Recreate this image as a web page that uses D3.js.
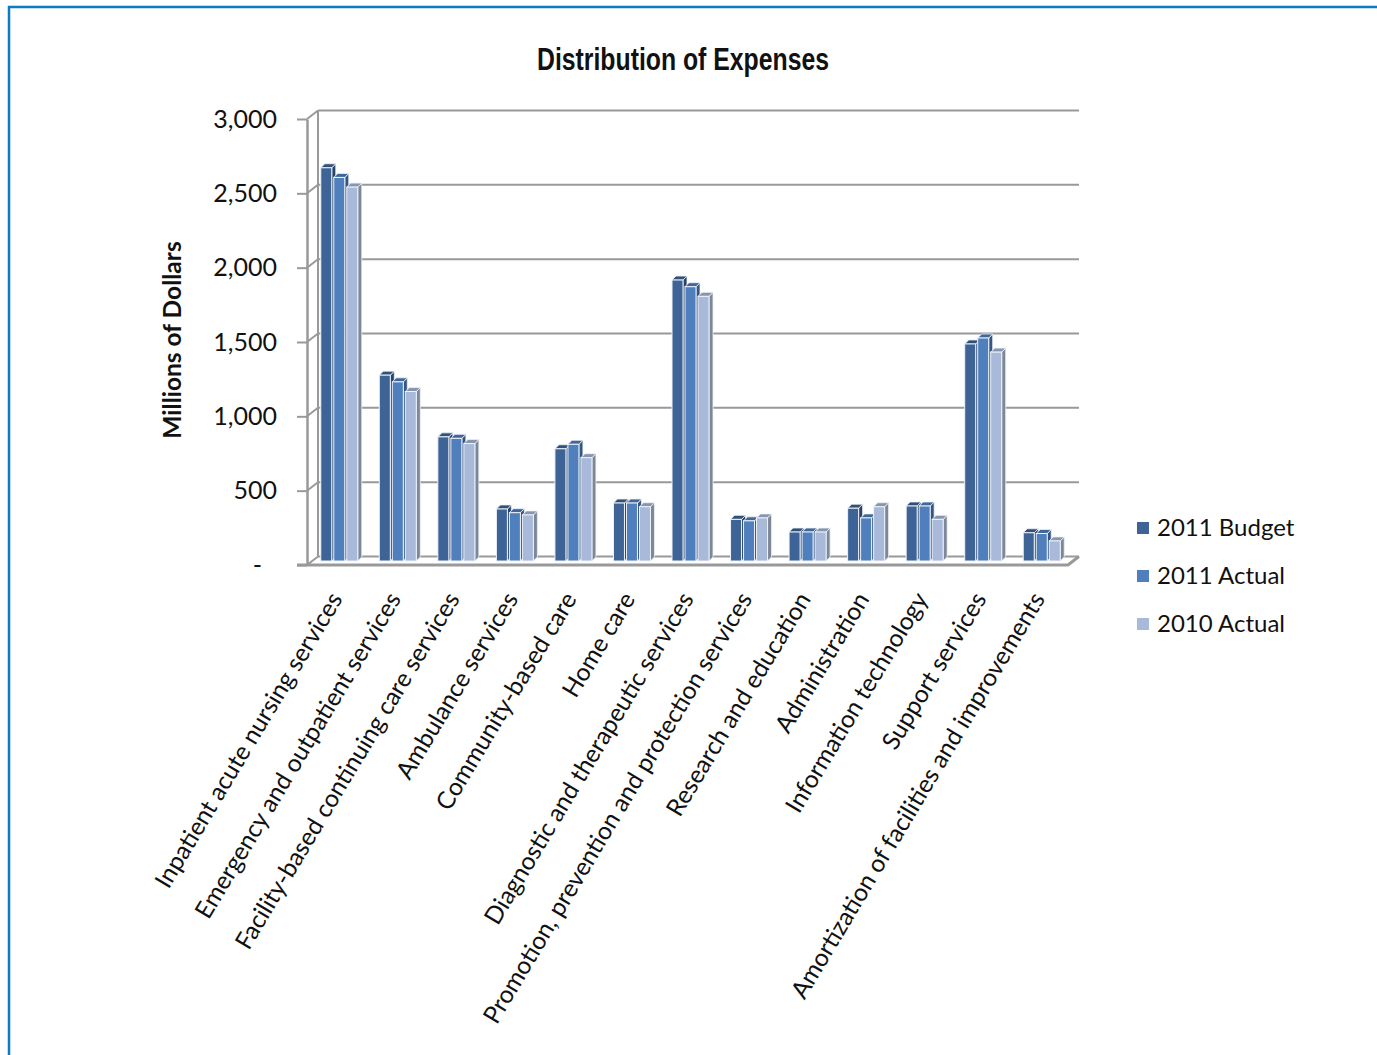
<!DOCTYPE html>
<html>
<head>
<meta charset="utf-8">
<script src="https://cdn.jsdelivr.net/npm/d3@7"></script>
<style>
  body { margin: 0; background: #fff; }
  text { fill: #111; }
</style>
</head>
<body>
<div id="chart"></div>
<script>
// Data
var categories = [
    "Inpatient acute nursing services",
    "Emergency and outpatient services",
    "Facility-based continuing care services",
    "Ambulance services",
    "Community-based care",
    "Home care",
    "Diagnostic and therapeutic services",
    "Promotion, prevention and protection services",
    "Research and education",
    "Administration",
    "Information technology",
    "Support services",
    "Amortization of facilities and improvements"
];
var budget2011 = [2645, 1250, 835, 350, 755, 390, 1890, 280, 195, 355, 370, 1460, 190];
var actual2011 = [2580, 1205, 825, 325, 785, 390, 1845, 270, 195, 290, 370, 1500, 185];
var actual2010 = [2515, 1140, 790, 310, 695, 365, 1780, 290, 195, 365, 280, 1405, 135];
var seriesNames = ["2011 Budget", "2011 Actual", "2010 Actual"];
var seriesColors = ["#3e6497", "#4f80bd", "#a8b9d9"];
var yTicks = [0, 500, 1000, 1500, 2000, 2500, 3000];

var width = 1377, height = 1055;

var svg = d3.select("#chart")
    .append("svg")
    .attr("width", width)
    .attr("height", height);

// blue frame
svg.append("path")
    .attr("d", "M9,1055V7H1377")
    .attr("fill", "none")
    .attr("stroke", "#0b7cc4")
    .attr("stroke-width", 2.5);

// title
svg.append("text")
    .attr("x", 683)
    .attr("y", 70)
    .attr("text-anchor", "middle")
    .attr("textLength", 292)
    .attr("lengthAdjust", "spacingAndGlyphs")
    .style("font-family", "'Liberation Sans Narrow', 'Arial Narrow', 'Liberation Sans', sans-serif")
    .style("font-weight", "bold")
    .style("font-size", "31px")
    .text("Distribution of Expenses");

// scales
var yFront = d3.scaleLinear().domain([0, 3000]).range([565, 119]);
var wallDx = 11, wallDy = -8.5;
var barShift = -4;          // bars sit half way into the floor
var axisX = 307, floorRight = 1068;

var x0 = d3.scaleBand().domain(categories).range([310, 1071]).padding(0);
var groupW = 37;
var x1 = d3.scaleBand().domain(seriesNames).range([0, groupW]).paddingInner(2 / 13).paddingOuter(0);

var gridColor = "#999";

// back gridlines
svg.append("g")
    .selectAll("line")
    .data(yTicks)
    .enter().append("line")
    .attr("x1", axisX + wallDx)
    .attr("x2", floorRight + wallDx)
    .attr("y1", d => yFront(d) + wallDy)
    .attr("y2", d => yFront(d) + wallDy)
    .attr("stroke", gridColor)
    .attr("stroke-width", 2);

// diagonal connectors on the left wall
svg.append("g")
    .selectAll("line")
    .data(yTicks)
    .enter().append("line")
    .attr("x1", axisX)
    .attr("x2", axisX + wallDx)
    .attr("y1", d => yFront(d))
    .attr("y2", d => yFront(d) + wallDy)
    .attr("stroke", gridColor)
    .attr("stroke-width", 2);

// left wall back edge
svg.append("line")
    .attr("x1", axisX + wallDx).attr("x2", axisX + wallDx)
    .attr("y1", yFront(3000) + wallDy).attr("y2", yFront(0) + wallDy)
    .attr("stroke", gridColor).attr("stroke-width", 2);

// y axis
var yAxis = d3.axisLeft(yFront)
    .tickValues(yTicks)
    .tickSize(10)
    .tickSizeOuter(0)
    .tickPadding(20)
    .tickFormat(d => d === 0 ? "-" : d3.format(",")(d));

var axisG = svg.append("g")
    .attr("transform", `translate(${axisX},0)`)
    .call(yAxis);
axisG.select(".domain").attr("stroke", gridColor).attr("stroke-width", 2.5);
axisG.selectAll(".tick line").attr("stroke", gridColor).attr("stroke-width", 2);
axisG.selectAll(".tick text")
    .style("font-family", "Lato, 'Open Sans', sans-serif")
    .style("font-size", "25px")
    .attr("fill", "#222")
    .attr("dx", d => d === 0 ? -15 : 0);

// floor front edge
svg.append("path")
    .attr("d", `M${axisX - 10},${yFront(0)}H${floorRight}l${wallDx},${wallDy}`)
    .attr("fill", "none")
    .attr("stroke", gridColor)
    .attr("stroke-width", 3);

// 3D bars
var bw = x1.bandwidth();
var bdx = 4, bdy = -4;
var base = yFront(0) + barShift;
var valuesBySeries = [budget2011, actual2011, actual2010];

var bars = svg.append("g");
categories.forEach(function(cat, i) {
    var gx = x0(cat) + (x0.bandwidth() - groupW) / 2;
    seriesNames.forEach(function(s, j) {
        var v = valuesBySeries[j][i];
        var x = gx + x1(s);
        var yt = yFront(v) + barShift;
        var c = d3.color(seriesColors[j]);
        var g = bars.append("g");
        // side face
        g.append("path")
            .attr("d", `M${x + bw},${yt}L${x + bw + bdx},${yt + bdy}L${x + bw + bdx},${base + bdy}L${x + bw},${base}Z`)
            .attr("fill", j === 2 ? "#7c8798" : c.darker(1.1))
            .attr("stroke", "#eef2f8")
            .attr("stroke-width", 0.8);
        // top face
        g.append("path")
            .attr("d", `M${x},${yt}L${x + bdx},${yt + bdy}L${x + bw + bdx},${yt + bdy}L${x + bw},${yt}Z`)
            .attr("fill", c.darker(0.6))
            .attr("stroke", "#eef2f8")
            .attr("stroke-width", 0.8);
        // front face
        g.append("rect")
            .attr("x", x)
            .attr("y", yt)
            .attr("width", bw)
            .attr("height", base - yt)
            .attr("fill", seriesColors[j])
            .attr("stroke", "#eef2f8")
            .attr("stroke-width", 1);
    });
});

// category labels
svg.append("g")
    .selectAll("text")
    .data(categories)
    .enter().append("text")
    .attr("transform", d => `translate(${x0(d) + x0.bandwidth() / 2 + 4},599) rotate(-59)`)
    .attr("text-anchor", "end")
    .style("font-family", "Lato, 'Open Sans', sans-serif")
    .style("font-size", "24.5px")
    .attr("fill", "#222")
    .text(d => d);

// y axis title
svg.append("text")
    .attr("transform", "translate(181,340) rotate(-90)")
    .attr("text-anchor", "middle")
    .style("font-family", "Lato, 'Open Sans', sans-serif")
    .style("font-weight", "bold")
    .style("font-size", "24.5px")
    .text("Millions of Dollars");

// legend
var legend = svg.append("g")
    .attr("transform", "translate(1137,528)");

seriesNames.forEach(function(s, j) {
    legend.append("rect")
        .attr("x", 0)
        .attr("y", j * 48 - 6)
        .attr("width", 12)
        .attr("height", 12)
        .attr("fill", seriesColors[j]);
    legend.append("text")
        .attr("x", 20)
        .attr("y", j * 48)
        .attr("dy", "0.35em")
        .style("font-family", "Lato, 'Open Sans', sans-serif")
        .style("font-size", "24px")
        .attr("fill", "#222")
        .text(s);
});
</script>
</body>
</html>
